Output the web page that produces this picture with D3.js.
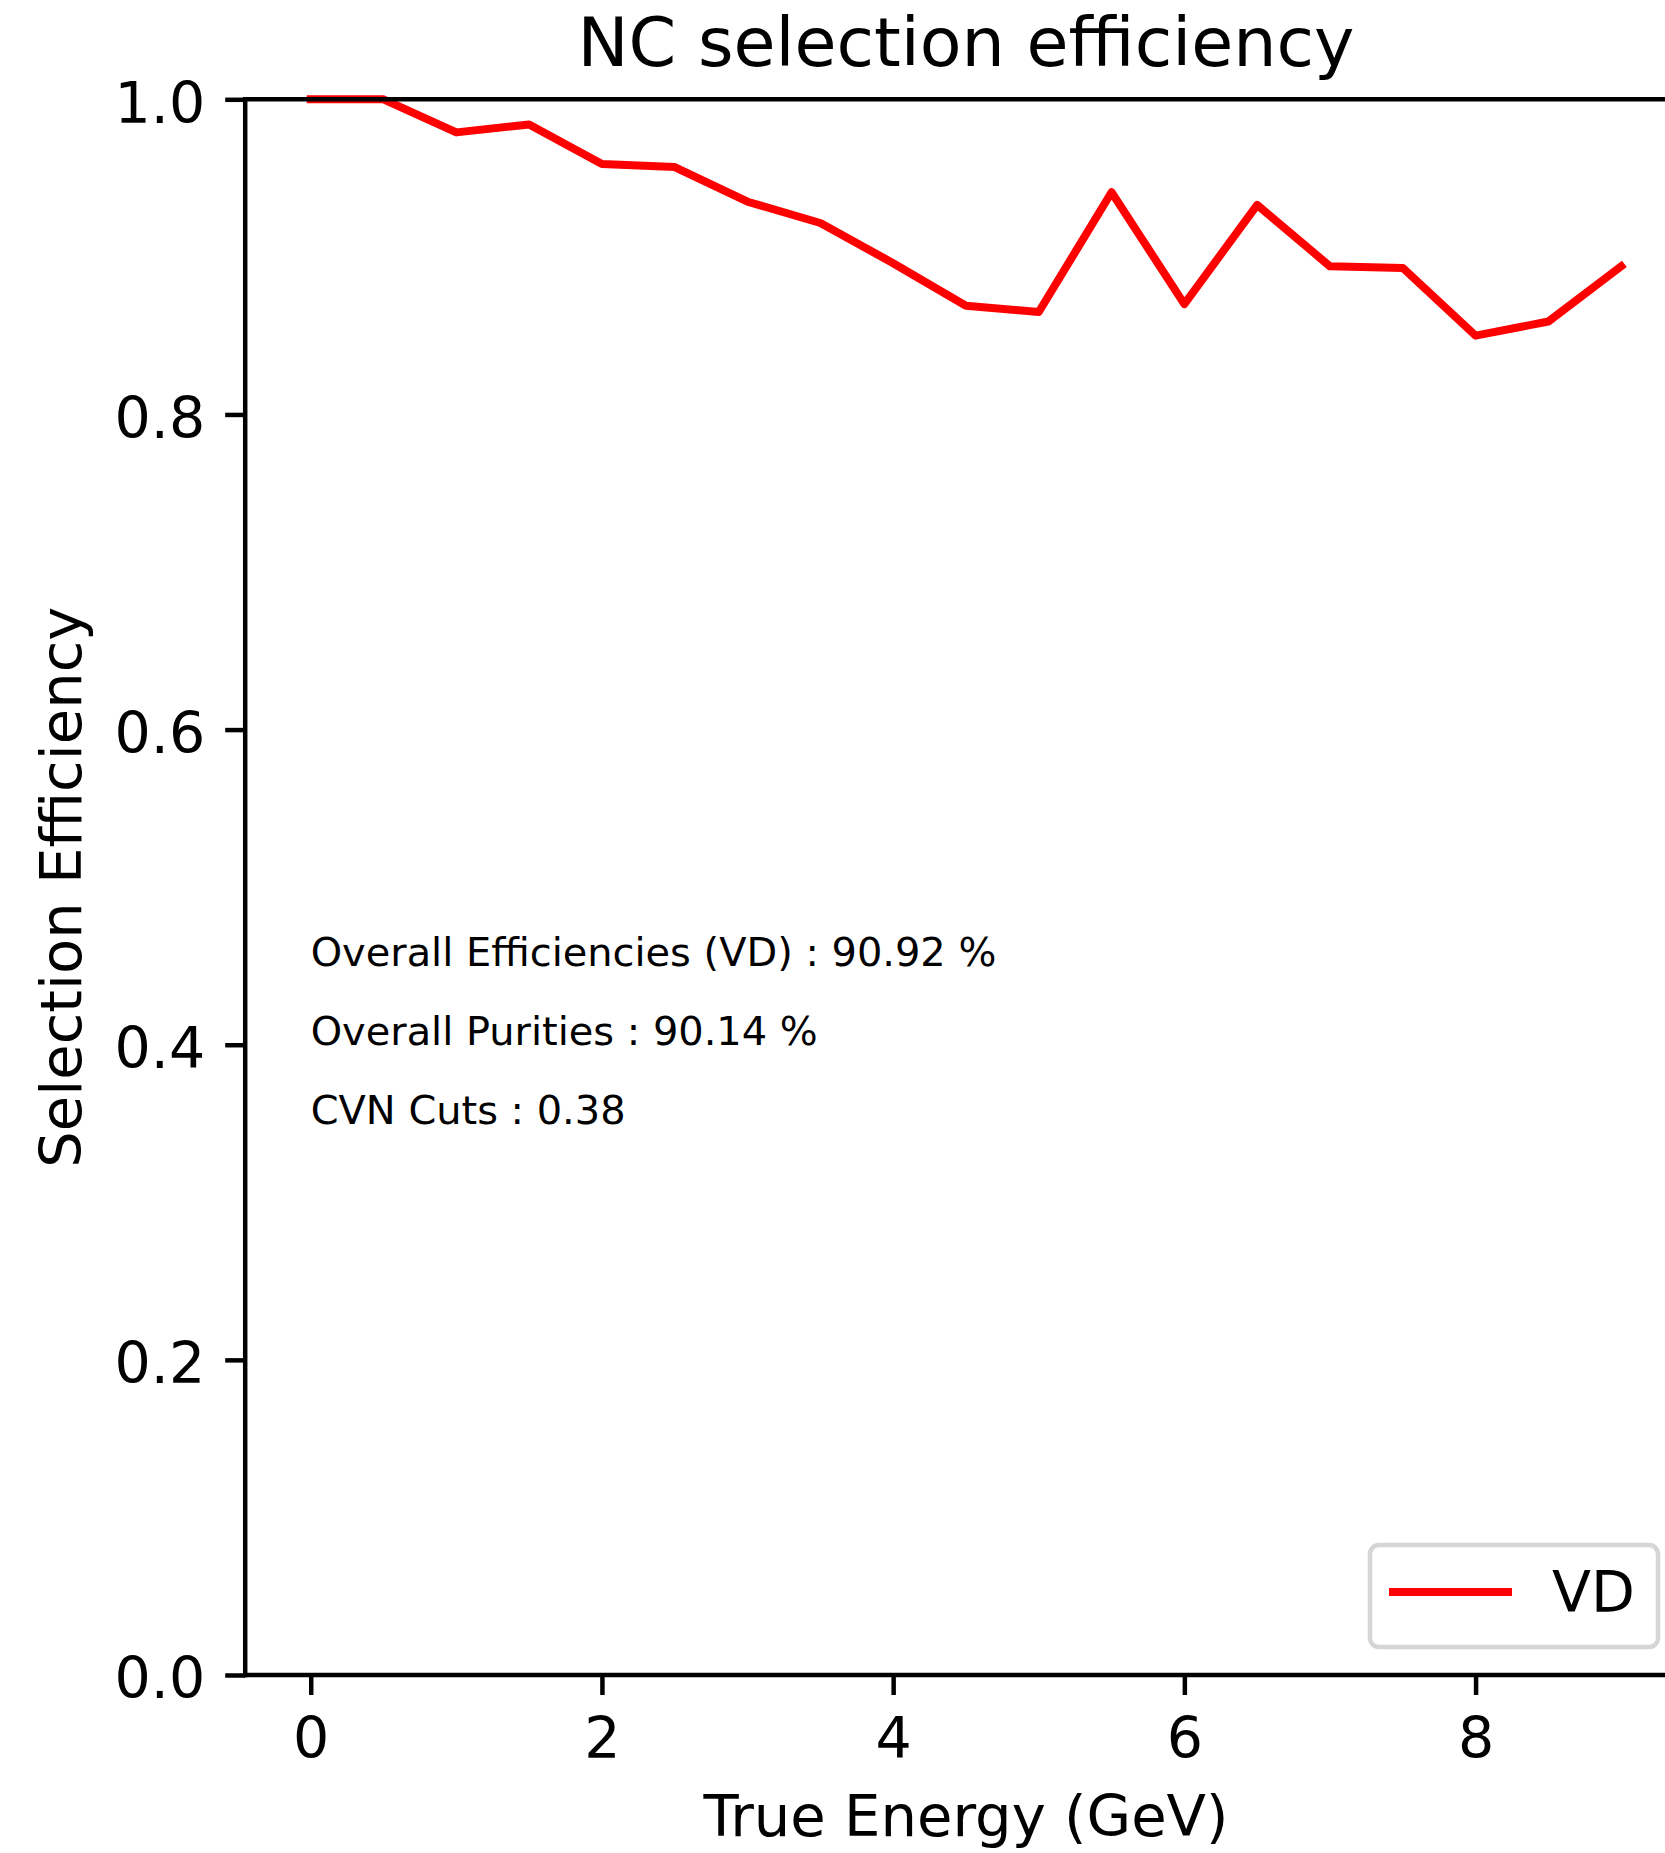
<!DOCTYPE html>
<html>
<head>
<meta charset="utf-8">
<script src="https://cdn.jsdelivr.net/npm/d3@7"></script>
<style>
  html, body { margin: 0; padding: 0; background: #ffffff; }
  svg { display: block; font-family: "DejaVu Sans", sans-serif; }
</style>
</head>
<body>
<svg id="chart" width="1665" height="1853"></svg>
<script>
// True neutrino energy bins (GeV)
const energies = [0, 0.5, 1, 1.5, 2, 2.5, 3, 3.5, 4, 4.5, 5, 5.5, 6, 6.5, 7, 7.5, 8, 8.5, 9];
// NC selection efficiency per energy bin, VD detector
const efficiencyVD = [1.0, 1.0, 0.979, 0.984, 0.959, 0.957, 0.935, 0.9215, 0.896, 0.869, 0.865,
                      0.941, 0.870, 0.933, 0.894, 0.893, 0.850, 0.859, 0.894];
const xTicks = [0, 2, 4, 6, 8];
const yTicks = [0, 0.2, 0.4, 0.6, 0.8, 1.0];
const seriesNames = ["VD"];
const summaryLines = [
  "Overall Efficiencies (VD) : 90.92 %",
  "Overall Purities : 90.14 %",
  "CVN Cuts : 0.38"
];
const summaryY = [0.45, 0.40, 0.35];

(function draw() {
  const svg = d3.select("#chart");
  svg.append("rect").attr("width", 1665).attr("height", 1853).attr("fill", "#ffffff");

  const plotL = 245.2, plotR = 1686.7, plotT = 99.3, plotB = 1675;
  const x = d3.scaleLinear().domain([-0.45, 9.45]).range([plotL, plotR]);
  const y = d3.scaleLinear().domain([0, 1]).range([plotB, plotT]);

  const spineW = 4.5;
  const fontTick = 57;
  const fontLabel = 57.6;

  // Data line
  const line = d3.line().x((d, i) => x(energies[i])).y(d => y(d));
  svg.append("path")
    .datum(efficiencyVD)
    .attr("d", line)
    .attr("fill", "none")
    .attr("stroke", "#ff0000")
    .attr("stroke-width", 8)
    .attr("stroke-linejoin", "round")
    .attr("stroke-linecap", "square");

  // Y axis
  const yAxis = svg.append("g")
    .attr("transform", `translate(${plotL},0)`)
    .call(d3.axisLeft(y).tickValues(yTicks).tickFormat(d3.format(".1f")).tickSize(20).tickSizeOuter(0).tickPadding(20));
  yAxis.select(".domain").remove();
  yAxis.selectAll(".tick line").attr("stroke", "#000").attr("stroke-width", spineW);
  yAxis.selectAll(".tick text")
    .attr("font-size", fontTick).attr("font-family", "DejaVu Sans").attr("fill", "#000")
    .attr("dy", "0.4em");

  // X axis
  const xAxis = svg.append("g")
    .attr("transform", `translate(0,${plotB})`)
    .call(d3.axisBottom(x).tickValues(xTicks).tickFormat(d3.format("d")).tickSize(20).tickSizeOuter(0));
  xAxis.select(".domain").remove();
  xAxis.selectAll(".tick line").attr("stroke", "#000").attr("stroke-width", spineW);
  xAxis.selectAll(".tick text")
    .attr("font-size", fontTick).attr("font-family", "DejaVu Sans").attr("fill", "#000")
    .attr("y", 83.3).attr("dy", null);

  // Spines
  const spines = svg.append("g").attr("stroke", "#000").attr("stroke-width", spineW).attr("stroke-linecap", "square");
  spines.append("line").attr("x1", plotL).attr("x2", plotL).attr("y1", plotT).attr("y2", plotB);
  spines.append("line").attr("x1", plotR).attr("x2", plotR).attr("y1", plotT).attr("y2", plotB);
  spines.append("line").attr("x1", plotL).attr("x2", plotR).attr("y1", plotT).attr("y2", plotT);
  spines.append("line").attr("x1", plotL).attr("x2", plotR).attr("y1", plotB).attr("y2", plotB);

  // Title
  svg.append("text")
    .attr("x", (plotL + plotR) / 2).attr("y", 66)
    .attr("text-anchor", "middle").attr("font-size", 68.3).attr("fill", "#000")
    .text("NC selection efficiency");

  // Axis labels
  svg.append("text")
    .attr("x", (plotL + plotR) / 2).attr("y", 1836)
    .attr("text-anchor", "middle").attr("font-size", fontLabel).attr("fill", "#000")
    .text("True Energy (GeV)");
  svg.append("text")
    .attr("transform", `translate(81,${(plotT + plotB) / 2}) rotate(-90)`)
    .attr("text-anchor", "middle").attr("font-size", fontLabel).attr("fill", "#000")
    .text("Selection Efficiency");

  // Summary annotations
  svg.append("g").selectAll("text")
    .data(summaryLines)
    .join("text")
    .attr("x", x(0)).attr("y", (d, i) => y(summaryY[i]))
    .attr("font-size", 39.9).attr("fill", "#000")
    .text(d => d);

  // Legend
  const legend = svg.append("g");
  legend.append("rect")
    .attr("x", 1370).attr("y", 1545).attr("width", 288).attr("height", 102)
    .attr("rx", 9).attr("fill", "#ffffff").attr("stroke", "#d6d6d6").attr("stroke-width", 4.5);
  legend.append("line")
    .attr("x1", 1389).attr("x2", 1512).attr("y1", 1592).attr("y2", 1592)
    .attr("stroke", "#ff0000").attr("stroke-width", 8);
  legend.append("text")
    .attr("x", 1552).attr("y", 1612).attr("font-size", fontTick).attr("fill", "#000")
    .text(seriesNames[0]);
})();
</script>
</body>
</html>
